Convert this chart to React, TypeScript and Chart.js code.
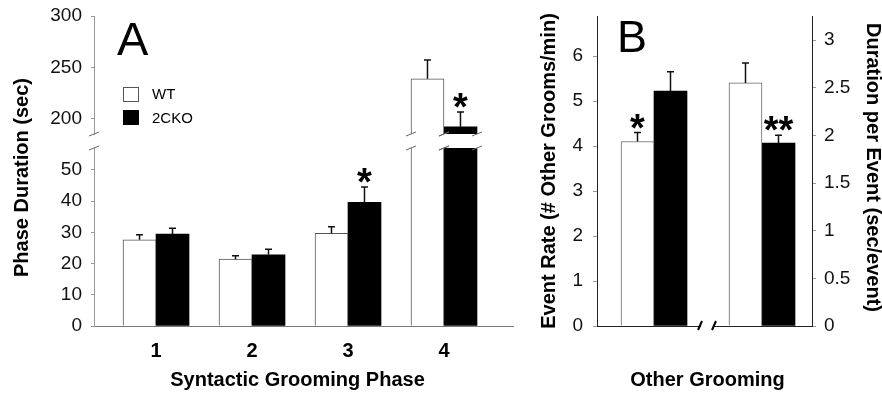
import React, { useEffect, useRef } from "react";
import { Chart, registerables } from "chart.js";
Chart.register(...registerables);

const FONT = '"Liberation Sans", Arial, Helvetica, sans-serif';

// ---------- Panel A data ----------
const phases = ["1", "2", "3", "4"];
const wtPhase = [27.6, 21.4, 29.7, 238.8];
const wtPhaseErr = [1.6, 1.1, 2.1, 18.4];
const ckoPhase = [29.4, 22.8, 39.6, 192];
const ckoPhaseErr = [1.9, 1.8, 4.9, 14.5];
const wtPhaseSig = ["", "", "", ""];
const ckoPhaseSig = ["", "", "*", "*"];
const lowerTicks = [0, 10, 20, 30, 40, 50];
const upperTicks = [200, 250, 300];

// ---------- Panel B data ----------
const otherMeasures = ["Event Rate", "Duration per Event"];
const wtOther = [4.1, 2.55];
const wtOtherErr = [0.2, 0.21];
const ckoOther = [5.22, 1.92];
const ckoOtherErr = [0.43, 0.08];
const wtOtherSig = ["*", ""];
const ckoOtherSig = ["", "**"];
const rateTicks = [0, 1, 2, 3, 4, 5, 6];
const durTicks = [0, 0.5, 1, 1.5, 2, 2.5, 3];

const toPoints = (vals: (number | null)[]) => vals.map((y, i) => ({ x: i + 1, y }));

const errorPlugin = {
  id: "errbars",
  afterDatasetsDraw(chart: any) {
    const { ctx, chartArea } = chart;
    ctx.save();
    ctx.beginPath();
    ctx.rect(chartArea.left, chartArea.top - 1, chartArea.right - chartArea.left, chartArea.bottom - chartArea.top + 1);
    ctx.clip();
    chart.data.datasets.forEach((ds: any, di: number) => {
      const meta = chart.getDatasetMeta(di);
      const yScale = chart.scales[meta.yAxisID];
      meta.data.forEach((el: any, i: number) => {
        const v = ds.data[i].y;
        if (v === null || v === undefined) return;
        const err = ds.errors[i];
        const barTop = yScale.getPixelForValue(v);
        const errTop = yScale.getPixelForValue(v + err);
        ctx.strokeStyle = "#111";
        ctx.lineWidth = 1.5;
        ctx.beginPath();
        ctx.moveTo(el.x, barTop);
        ctx.lineTo(el.x, errTop);
        ctx.moveTo(el.x - 3.5, errTop);
        ctx.lineTo(el.x + 3.5, errTop);
        ctx.stroke();
        const sig = ds.sig[i];
        if (sig) {
          ctx.fillStyle = "#000";
          ctx.font = `bold 38px ${FONT}`;
          ctx.textAlign = "center";
          ctx.textBaseline = "alphabetic";
          ctx.fillText(sig, el.x, errTop + 8);
        }
      });
    });
    ctx.restore();
  },
};

const breakPlugin = (edge: "top" | "bottom") => ({
  id: "breaks",
  afterDraw(chart: any) {
    const { ctx, chartArea, scales } = chart;
    const y = edge === "top" ? chartArea.top : chartArea.bottom;
    const xs: number[] = [chartArea.left];
    const yScale = scales.y;
    chart.data.datasets.forEach((ds: any, di: number) => {
      const meta = chart.getDatasetMeta(di);
      meta.data.forEach((el: any, i: number) => {
        const v = ds.data[i].y;
        if (v === null) return;
        const crosses = edge === "top" ? v > yScale.max : v > yScale.min;
        if (crosses) xs.push(el.x - el.width / 2, el.x + el.width / 2);
      });
    });
    ctx.save();
    ctx.strokeStyle = "#666";
    ctx.lineWidth = 1;
    xs.forEach((x) => {
      ctx.beginPath();
      ctx.moveTo(x - 5, y + 2);
      ctx.lineTo(x + 5, y - 2);
      ctx.stroke();
    });
    ctx.restore();
  },
});

const decorA = {
  id: "decorA",
  afterDraw(chart: any) {
    const { ctx } = chart;
    const ds = chart.data.datasets;
    ctx.save();
    ctx.fillStyle = "#000";
    ctx.textAlign = "left";
    ctx.textBaseline = "alphabetic";
    ctx.font = `47px ${FONT}`;
    ctx.fillText("A", 117, 55);
    // legend
    ctx.strokeStyle = "#555";
    ctx.lineWidth = 1;
    ctx.fillStyle = "#fff";
    ctx.fillRect(123.5, 87.5, 15, 14);
    ctx.strokeRect(123.5, 87.5, 15, 14);
    ctx.fillStyle = "#000";
    ctx.fillRect(123, 110, 16, 15);
    ctx.font = `15px ${FONT}`;
    ctx.textBaseline = "middle";
    ctx.fillText(ds[0].label, 152, 94.5);
    ctx.fillText(ds[1].label, 152, 118.5);
    // titles
    ctx.font = `bold 20px ${FONT}`;
    ctx.textAlign = "center";
    ctx.textBaseline = "alphabetic";
    ctx.fillText("Syntactic Grooming Phase", 297.5, 386);
    ctx.translate(27.5, 177.5);
    ctx.rotate(-Math.PI / 2);
    ctx.fillText("Phase Duration (sec)", 0, 0);
    ctx.restore();
  },
};

const decorB = {
  id: "decorB",
  afterDraw(chart: any) {
    const { ctx, scales } = chart;
    ctx.save();
    ctx.fillStyle = "#000";
    ctx.textAlign = "left";
    ctx.textBaseline = "alphabetic";
    ctx.font = `45px ${FONT}`;
    ctx.fillText("B", 617, 52);
    // axis break on x
    const xb = scales.x.getPixelForValue(1.5);
    const yb = scales.x.top;
    ctx.fillStyle = "#fff";
    ctx.fillRect(xb - 7, yb - 2, 12, 4);
    ctx.strokeStyle = "#000";
    ctx.lineWidth = 2;
    ctx.beginPath();
    ctx.moveTo(xb - 10, yb + 4);
    ctx.lineTo(xb - 6, yb - 5);
    ctx.moveTo(xb + 4, yb + 4);
    ctx.lineTo(xb + 8, yb - 5);
    ctx.stroke();
    ctx.fillStyle = "#000";
    ctx.font = `bold 20px ${FONT}`;
    ctx.textAlign = "center";
    ctx.fillText("Other Grooming", 707.5, 386);
    ctx.save();
    ctx.translate(555, 171);
    ctx.rotate(-Math.PI / 2);
    ctx.fillText("Event Rate (# Other Grooms/min)", 0, 0);
    ctx.restore();
    ctx.save();
    ctx.translate(867, 167.5);
    ctx.rotate(Math.PI / 2);
    ctx.fillText("Duration per Event (sec/event)", 0, 0);
    ctx.restore();
    ctx.restore();
  },
};

// lineHeight kept small so the label height does not push the chart area down
const tickFont = { family: FONT, size: 19, lineHeight: 0.5 };

const phaseDatasets = () => [
  {
    label: "WT",
    data: toPoints(wtPhase),
    errors: wtPhaseErr,
    sig: wtPhaseSig,
    backgroundColor: "#fff",
    borderColor: "#555",
    borderWidth: 1,
    barThickness: 33,
    clip: 0,
  },
  {
    label: "2CKO",
    data: toPoints(ckoPhase),
    errors: ckoPhaseErr,
    sig: ckoPhaseSig,
    backgroundColor: "#000",
    borderColor: "#000",
    borderWidth: 0,
    barThickness: 33,
    clip: 0,
  },
];

const phaseX = (show: boolean) => ({
  type: "linear",
  position: "bottom",
  display: show,
  offset: false,
  min: 0.354,
  max: 4.719,
  afterFit: (s: any) => {
    s.height = show ? 67 : 0;
  },
  afterBuildTicks: (s: any) => {
    s.ticks = phases.map((_, i) => ({ value: i + 1 }));
  },
  ticks: {
    callback: (_v: any, i: number) => phases[i],
    font: { family: FONT, size: 20, weight: "bold" },
    color: "#000",
    padding: 13,
    maxRotation: 0,
    autoSkip: false,
  },
  grid: { display: false, drawTicks: false, offset: false },
  border: { display: true, color: "#777", width: 1 },
});

const phaseY = (min: number, max: number, ticks: number[]) => ({
  type: "linear",
  position: "left",
  min,
  max,
  afterFit: (s: any) => {
    s.width = 94;
  },
  afterBuildTicks: (s: any) => {
    s.ticks = ticks.map((v) => ({ value: v }));
  },
  ticks: { font: tickFont, color: "#111", padding: 9, callback: (v: any) => String(v) },
  grid: { display: true, drawOnChartArea: false, drawTicks: true, tickLength: 3, color: "#999" },
  border: { display: true, color: "#999", width: 1 },
});

const baseOptions = (padding: any) => ({
  responsive: false,
  animation: false,
  events: [],
  layout: { padding },
  plugins: { legend: { display: false }, tooltip: { enabled: false } },
});

const upperConfig = (): any => ({
  type: "bar",
  data: { datasets: phaseDatasets() },
  options: {
    ...baseOptions({ left: 0, right: 369, top: 16, bottom: 259 }),
    scales: { x: phaseX(false), y: phaseY(185, 300, upperTicks) },
  },
  plugins: [errorPlugin, breakPlugin("bottom")],
});

const lowerConfig = (): any => ({
  type: "bar",
  data: { datasets: phaseDatasets() },
  options: {
    ...baseOptions({ left: 0, right: 369, top: 148, bottom: 0 }),
    scales: { x: phaseX(true), y: phaseY(0, 57, lowerTicks) },
  },
  plugins: [errorPlugin, breakPlugin("top"), decorA],
});

const otherDatasets = () => {
  const out: any[] = [];
  otherMeasures.forEach((_, m) => {
    const axis = m === 0 ? "y" : "y2";
    out.push({
      label: "WT",
      yAxisID: axis,
      data: otherMeasures.map((__, j) => ({ x: j + 1, y: j === m ? wtOther[j] : null })),
      errors: wtOtherErr,
      sig: wtOtherSig,
      backgroundColor: "#fff",
      borderColor: "#666",
      borderWidth: 1,
      barThickness: 33,
      skipNull: true,
      clip: 0,
    });
    out.push({
      label: "2CKO",
      yAxisID: axis,
      data: otherMeasures.map((__, j) => ({ x: j + 1, y: j === m ? ckoOther[j] : null })),
      errors: ckoOtherErr,
      sig: ckoOtherSig,
      backgroundColor: "#000",
      borderColor: "#000",
      borderWidth: 0,
      barThickness: 33,
      skipNull: true,
      clip: 0,
    });
  });
  return out;
};

const bConfig = (): any => ({
  type: "bar",
  data: { datasets: otherDatasets() },
  options: {
    ...baseOptions({ left: 0, right: 0, top: 16, bottom: 0 }),
    scales: {
      x: {
        type: "linear",
        position: "bottom",
        offset: false,
        min: 0.4722,
        max: 2.463,
        afterFit: (s: any) => {
          s.height = 67;
        },
        afterBuildTicks: (s: any) => {
          s.ticks = otherMeasures.map((_, i) => ({ value: i + 1 }));
        },
        ticks: { display: false },
        grid: { display: false, drawTicks: false, offset: false },
        border: { display: true, color: "#222", width: 1 },
      },
      y: {
        type: "linear",
        position: "left",
        min: 0,
        max: 6.89,
        afterFit: (s: any) => {
          s.width = 597;
        },
        afterBuildTicks: (s: any) => {
          s.ticks = rateTicks.map((v) => ({ value: v }));
        },
        ticks: { font: tickFont, color: "#111", padding: 10, callback: (v: any) => String(v) },
        grid: { display: true, drawOnChartArea: false, drawTicks: true, tickLength: 4, color: "#999" },
        border: { display: true, color: "#222", width: 1 },
      },
      y2: {
        type: "linear",
        position: "right",
        min: 0,
        max: 3.252,
        afterFit: (s: any) => {
          s.width = 70;
        },
        afterBuildTicks: (s: any) => {
          s.ticks = durTicks.map((v) => ({ value: v }));
        },
        ticks: { font: tickFont, color: "#111", padding: 8, callback: (v: any) => String(v) },
        grid: { display: true, drawOnChartArea: false, drawTicks: true, tickLength: 4, color: "#999" },
        border: { display: true, color: "#222", width: 1 },
      },
    },
  },
  plugins: [errorPlugin, decorB],
});

export default function App() {
  const upperRef = useRef<HTMLCanvasElement>(null);
  const lowerRef = useRef<HTMLCanvasElement>(null);
  const bRef = useRef<HTMLCanvasElement>(null);

  useEffect(() => {
    const charts = [
      new Chart(upperRef.current!, upperConfig()),
      new Chart(lowerRef.current!, lowerConfig()),
      new Chart(bRef.current!, bConfig()),
    ];
    return () => charts.forEach((c) => c.destroy());
  }, []);

  const style: React.CSSProperties = { position: "absolute", left: 0, top: 0 };
  return (
    <div style={{ position: "fixed", left: 0, top: 0, width: 882, height: 393, background: "#fff" }}>
      <canvas ref={upperRef} width={882} height={393} style={style} />
      <canvas ref={lowerRef} width={882} height={393} style={style} />
      <canvas ref={bRef} width={882} height={393} style={style} />
    </div>
  );
}
